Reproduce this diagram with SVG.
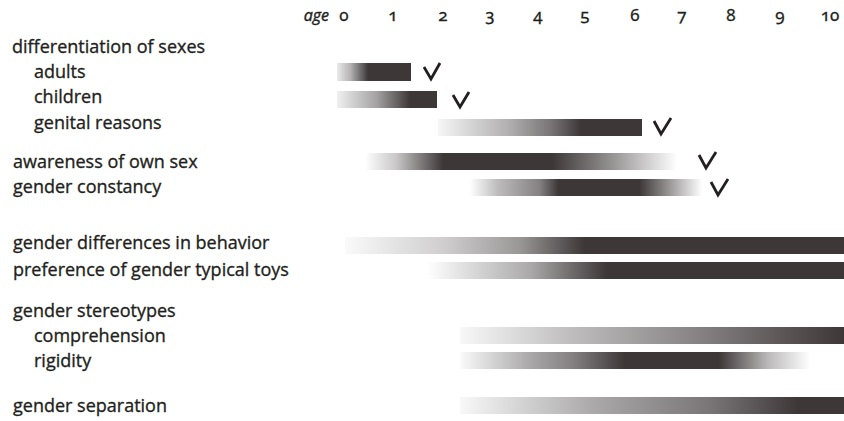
<svg xmlns="http://www.w3.org/2000/svg" width="844" height="421" viewBox="0 0 844 421">
<style>
  .lbl { font-family: "Open Sans", "Noto Sans", "Liberation Sans", sans-serif; font-size: 18px; fill: #231f20; stroke: #231f20; stroke-width: 0.35; }
  .num { font-family: "Noto Sans", "Open Sans", sans-serif; font-size: 17px; fill: #231f20; stroke: #231f20; stroke-width: 0.3; text-anchor: middle; font-variant-numeric: oldstyle-nums; font-feature-settings: "onum" 1; }
  .age { font-family: "Open Sans", "Noto Sans", sans-serif; font-size: 16px; font-style: italic; fill: #231f20; stroke: #231f20; stroke-width: 0.4; text-anchor: end; }
  .chk { fill: none; stroke: #231f20; stroke-width: 2.8; stroke-linecap: butt; stroke-linejoin: miter; }
</style>
<defs>
  <linearGradient id="gAdults" x1="0" y1="0" x2="1" y2="0">
    <stop offset="0" stop-color="#ebebeb"/><stop offset="0.18" stop-color="#b5b3b3"/><stop offset="0.42" stop-color="#3d3738"/><stop offset="1" stop-color="#3d3738"/>
  </linearGradient>
  <linearGradient id="gChildren" x1="0" y1="0" x2="1" y2="0">
    <stop offset="0" stop-color="#f0f0f0"/><stop offset="0.4" stop-color="#a3a1a1"/><stop offset="0.73" stop-color="#3d3738"/><stop offset="1" stop-color="#3d3738"/>
  </linearGradient>
  <linearGradient id="gGenital" x1="0" y1="0" x2="1" y2="0">
    <stop offset="0" stop-color="#f6f6f6"/><stop offset="0.35" stop-color="#b0aeae"/><stop offset="0.55" stop-color="#7a7677"/><stop offset="0.7" stop-color="#3d3738"/><stop offset="1" stop-color="#3d3738"/>
  </linearGradient>
  <linearGradient id="gAware" x1="0" y1="0" x2="1" y2="0">
    <stop offset="0" stop-color="#ffffff"/><stop offset="0.1" stop-color="#c9c7c7"/><stop offset="0.25" stop-color="#3d3738"/><stop offset="0.6" stop-color="#3d3738"/><stop offset="0.8" stop-color="#9a9797"/><stop offset="1" stop-color="#ffffff"/>
  </linearGradient>
  <linearGradient id="gConst" x1="0" y1="0" x2="1" y2="0">
    <stop offset="0" stop-color="#ffffff"/><stop offset="0.12" stop-color="#bdbbbb"/><stop offset="0.3" stop-color="#858182"/><stop offset="0.38" stop-color="#3d3738"/><stop offset="0.73" stop-color="#3d3738"/><stop offset="0.86" stop-color="#9a9797"/><stop offset="1" stop-color="#ffffff"/>
  </linearGradient>
  <linearGradient id="gDiff" x1="0" y1="0" x2="1" y2="0">
    <stop offset="0" stop-color="#fafafa"/><stop offset="0.2" stop-color="#cfcdcd"/><stop offset="0.35" stop-color="#9a9797"/><stop offset="0.48" stop-color="#3d3738"/><stop offset="1" stop-color="#3d3738"/>
  </linearGradient>
  <linearGradient id="gPref" x1="0" y1="0" x2="1" y2="0">
    <stop offset="0" stop-color="#ffffff"/><stop offset="0.1" stop-color="#dcdcdc"/><stop offset="0.25" stop-color="#aaa8a8"/><stop offset="0.43" stop-color="#3d3738"/><stop offset="1" stop-color="#3d3738"/>
  </linearGradient>
  <linearGradient id="gComp" x1="0" y1="0" x2="1" y2="0">
    <stop offset="0" stop-color="#f8f8f8"/><stop offset="0.3" stop-color="#bdbbbb"/><stop offset="0.6" stop-color="#8a8687"/><stop offset="0.85" stop-color="#5a5455"/><stop offset="1" stop-color="#3d3738"/>
  </linearGradient>
  <linearGradient id="gRigid" x1="0" y1="0" x2="1" y2="0">
    <stop offset="0" stop-color="#fafafa"/><stop offset="0.2" stop-color="#aaa8a8"/><stop offset="0.32" stop-color="#858182"/><stop offset="0.47" stop-color="#3d3738"/><stop offset="0.74" stop-color="#3d3738"/><stop offset="0.88" stop-color="#bbb9b9"/><stop offset="1" stop-color="#ffffff"/>
  </linearGradient>
  <linearGradient id="gSep" x1="0" y1="0" x2="1" y2="0">
    <stop offset="0" stop-color="#f8f8f8"/><stop offset="0.35" stop-color="#aaa8a8"/><stop offset="0.65" stop-color="#7a7677"/><stop offset="0.88" stop-color="#3d3738"/><stop offset="1" stop-color="#3d3738"/>
  </linearGradient>
</defs>
<rect width="844" height="421" fill="#ffffff"/>

<g id="axis">
  <text class="age" x="329" y="21">age</text>
  <text class="num" x="344" y="21">0</text>
  <text class="num" x="393" y="21">1</text>
  <text class="num" x="443" y="21">2</text>
  <text class="num" x="490" y="21">3</text>
  <text class="num" x="538" y="21">4</text>
  <text class="num" x="585" y="21">5</text>
  <text class="num" x="635" y="21">6</text>
  <text class="num" x="682" y="21">7</text>
  <text class="num" x="731" y="21">8</text>
  <text class="num" x="780" y="21">9</text>
  <text class="num" x="830" y="21">10</text>
</g>

<g id="differentiation">
  <text class="lbl" x="12" y="53">differentiation of sexes</text>
</g>
<g id="adults">
  <text class="lbl" x="34" y="78">adults</text>
  <rect x="337" y="63" width="74" height="18" fill="url(#gAdults)"/>
  <path class="chk" d="M424,67 L431,79 L440,63"/>
</g>
<g id="children">
  <text class="lbl" x="34" y="103">children</text>
  <rect x="337" y="91" width="100" height="17" fill="url(#gChildren)"/>
  <path class="chk" d="M453,95 L460,107 L469,92"/>
</g>
<g id="genital">
  <text class="lbl" x="34" y="129">genital reasons</text>
  <rect x="438" y="119" width="204" height="17" fill="url(#gGenital)"/>
  <path class="chk" d="M654,121 L661,134 L671,118"/>
</g>
<g id="awareness">
  <text class="lbl" x="13" y="168">awareness of own sex</text>
  <rect x="365" y="153" width="312" height="17" fill="url(#gAware)"/>
  <path class="chk" d="M699,155 L706,168 L716,152"/>
</g>
<g id="constancy">
  <text class="lbl" x="13" y="193">gender constancy</text>
  <rect x="470" y="179" width="232" height="17" fill="url(#gConst)"/>
  <path class="chk" d="M711,182 L718,195 L728,179"/>
</g>
<g id="differences">
  <text class="lbl" x="13" y="249">gender differences in behavior</text>
  <rect x="345" y="237" width="499" height="17" fill="url(#gDiff)"/>
</g>
<g id="preference">
  <text class="lbl" x="13" y="276">preference of gender typical toys</text>
  <rect x="427" y="262" width="417" height="17" fill="url(#gPref)"/>
</g>
<g id="stereotypes">
  <text class="lbl" x="13" y="317">gender stereotypes</text>
</g>
<g id="comprehension">
  <text class="lbl" x="34" y="342">comprehension</text>
  <rect x="460" y="327" width="384" height="17" fill="url(#gComp)"/>
</g>
<g id="rigidity">
  <text class="lbl" x="34" y="367">rigidity</text>
  <rect x="460" y="352" width="350" height="17" fill="url(#gRigid)"/>
</g>
<g id="separation">
  <text class="lbl" x="13" y="412">gender separation</text>
  <rect x="460" y="397" width="384" height="17" fill="url(#gSep)"/>
</g>
</svg>
